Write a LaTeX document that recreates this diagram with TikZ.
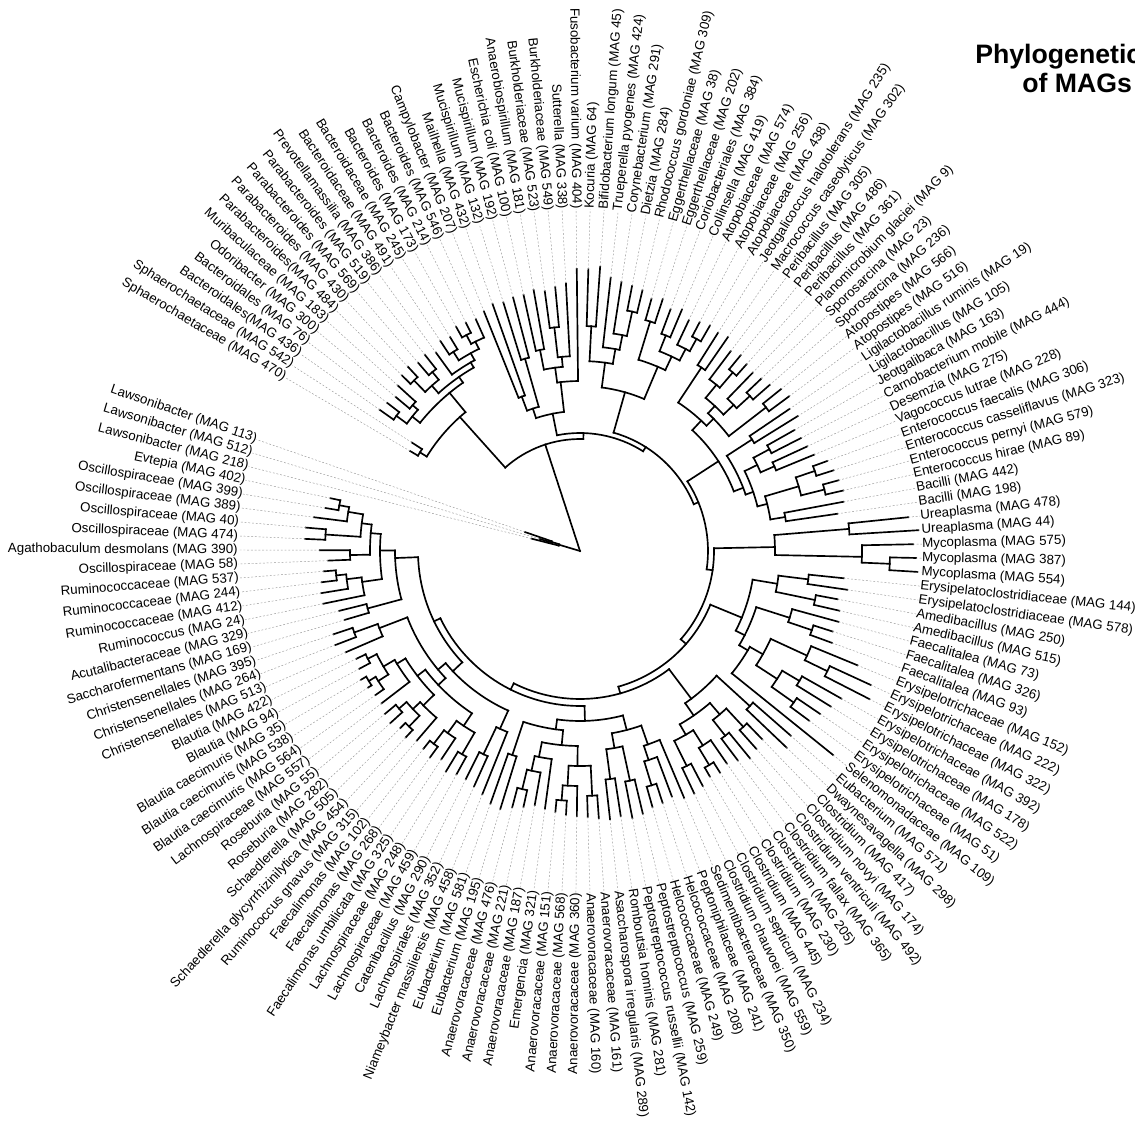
\documentclass[tikz,border=0pt]{standalone}
\usepackage{fontspec}
\setmainfont{Liberation Sans}
\tikzset{
  br/.style={line width=1.25pt, line cap=rect},
  lead/.style={black!40, line width=0.35pt, dash pattern=on 1.4pt off 1.4pt},
  lab/.style={font=\fontsize{10}{12}\selectfont, inner sep=0pt},
  ttl/.style={font=\fontsize{20}{24}\selectfont\bfseries, inner sep=0pt, anchor=base west}
}
% clade with children [#1..#2] and [#2+1..#3], node radius #4, parent radius #5
\newcommand\Cl[5]{%
  \pgfmathsetmacro\aA{151.885-2.355*((#1)+(#2))/2}%
  \pgfmathsetmacro\aB{151.885-2.355*((#2)+1+(#3))/2}%
  \pgfmathsetmacro\aM{151.885-2.355*((#1)+(#3))/2}%
  \draw[br] (\aA:#4) arc[start angle=\aA, end angle=\aB, radius=#4];%
  \draw[br] (\aM:#5) -- (\aM:#4);%
}
% node with explicit child positions #1,#2, own position #3
\newcommand\Nd[5]{%
  \pgfmathsetmacro\aA{151.885-2.355*(#1)}%
  \pgfmathsetmacro\aB{151.885-2.355*(#2)}%
  \pgfmathsetmacro\aM{151.885-2.355*(#3)}%
  \draw[br] (\aA:#4) arc[start angle=\aA, end angle=\aB, radius=#4];%
  \draw[br] (\aM:#5) -- (\aM:#4);%
}
% leaf #1, tip radius #2, parent radius #3
\newcommand\Lf[3]{%
  \pgfmathsetmacro\aM{151.885-2.355*(#1)}%
  \draw[br] (\aM:#3) -- (\aM:#2);%
  \draw[lead] (\aM:#2) -- (L#1);%
}
\begin{document}
\begin{tikzpicture}[x=0.75pt,y=0.75pt]
\useasboundingbox (-580,-570) rectangle (555,551);
\foreach \i/\t in {
1/{Sphaerochaetaceae (MAG 470)},
2/{Sphaerochaetaceae (MAG 542)},
3/{Bacteroidales(MAG 436)},
4/{Bacteroidales (MAG 76)},
5/{Odoribacter (MAG 300)},
6/{Muribaculaceae (MAG 183)},
7/{Parabacteroides(MAG 484)},
8/{Parabacteroides (MAG 430)},
9/{Parabacteroides (MAG 569)},
10/{Parabacteroides (MAG 519)},
11/{Prevotellamassilia (MAG 386)},
12/{Bacteroidaceae (MAG 491)},
13/{Bacteroidaceae (MAG 245)},
14/{Bacteroides (MAG 173)},
15/{Bacteroides (MAG 214)},
16/{Bacteroides (MAG 546)},
17/{Campylobacter (MAG 207)},
18/{Mailhella (MAG 432)},
19/{Mucispirillum (MAG 132)},
20/{Mucispirillum (MAG 192)},
21/{Escherichia coli (MAG 100)},
22/{Anaerobiospirillum (MAG 181)},
23/{Burkholderiaceae (MAG 523)},
24/{Burkholderiaceae (MAG 549)},
25/{Sutterella (MAG 338)},
26/{Fusobacterium varium (MAG 404)},
27/{Kocuria (MAG 64)},
28/{Bifidobacterium longum (MAG 45)},
29/{Trueperella pyogenes (MAG 424)},
30/{Corynebacterium (MAG 291)},
31/{Dietzia (MAG 284)},
32/{Rhodococcus gordoniae (MAG 309)},
33/{Eggerthellaceae (MAG 38)},
34/{Eggerthellaceae (MAG 202)},
35/{Coriobacteriales (MAG 384)},
36/{Collinsella (MAG 419)},
37/{Atopobiaceae (MAG 574)},
38/{Atopobiaceae (MAG 256)},
39/{Atopobiaceae (MAG 438)},
40/{Jeotgalicoccus halotolerans (MAG 235)},
41/{Macrococcus caseolyticus (MAG 302)},
42/{Peribacillus (MAG 305)},
43/{Peribacillus (MAG 486)},
44/{Peribacillus (MAG 361)},
45/{Planomicrobium glaciei (MAG 9)},
46/{Sporosarcina (MAG 23)},
47/{Sporosarcina (MAG 236)},
48/{Atopostipes (MAG 566)},
49/{Atopostipes (MAG 516)},
50/{Ligilactobacillus ruminis (MAG 19)},
51/{Ligilactobacillus (MAG 105)},
52/{Jeotgalibaca (MAG 163)},
53/{Carnobacterium mobile (MAG 444)},
54/{Desemzia (MAG 275)},
55/{Vagococcus lutrae (MAG 228)},
56/{Enterococcus faecalis (MAG 306)},
57/{Enterococcus casseliflavus (MAG 323)},
58/{Enterococcus pernyi (MAG 579)},
59/{Enterococcus hirae (MAG 89)},
60/{Bacilli (MAG 442)},
61/{Bacilli (MAG 198)},
62/{Ureaplasma (MAG 478)},
63/{Ureaplasma (MAG 44)},
64/{Mycoplasma (MAG 575)},
65/{Mycoplasma (MAG 387)},
66/{Mycoplasma (MAG 554)},
67/{Erysipelatoclostridiaceae (MAG 144)},
68/{Erysipelatoclostridiaceae (MAG 578)},
69/{Amedibacillus (MAG 250)},
70/{Amedibacillus (MAG 515)},
71/{Faecalitalea (MAG 73)},
72/{Faecalitalea (MAG 326)},
73/{Faecalitalea (MAG 93)},
74/{Erysipelotrichaceae (MAG 152)},
75/{Erysipelotrichaceae (MAG 222)},
76/{Erysipelotrichaceae (MAG 322)},
77/{Erysipelotrichaceae (MAG 392)},
78/{Erysipelotrichaceae (MAG 178)},
79/{Erysipelotrichaceae (MAG 522)},
80/{Erysipelotrichaceae (MAG 51)},
81/{Selenomonadaceae (MAG 109)},
82/{Eubacterium (MAG 571)},
83/{Dwaynesavagella (MAG 298)},
84/{Clostridium (MAG 417)},
85/{Clostridium novyi (MAG 174)},
86/{Clostridium ventriculi (MAG 492)},
87/{Clostridium fallax (MAG 365)},
88/{Clostridium (MAG 205)},
89/{Clostridium (MAG 230)},
90/{Clostridium (MAG 445)},
91/{Clostridium septicum (MAG 234)},
92/{Clostridium chauvoei (MAG 559)},
93/{Sedimentibacteraceae (MAG 350)},
94/{Peptoniphilaceae (MAG 241)},
95/{Helcococcaceae (MAG 208)},
96/{Helcococcaceae (MAG 249)},
97/{Peptostreptococcus (MAG 259)},
98/{Peptostreptococcus russellii (MAG 142)},
99/{Romboutsia hominis (MAG 281)},
100/{Asaccharospora irregularis (MAG 289)},
101/{Anaerovoracaceae (MAG 161)},
102/{Anaerovoracaceae (MAG 160)},
103/{Anaerovoracaceae (MAG 360)},
104/{Anaerovoracaceae (MAG 568)},
105/{Anaerovoracaceae (MAG 151)},
106/{Emergencia (MAG 321)},
107/{Anaerovoracaceae (MAG 187)},
108/{Anaerovoracaceae (MAG 221)},
109/{Anaerovoracaceae (MAG 476)},
110/{Eubacterium (MAG 195)},
111/{Eubacterium (MAG 581)},
112/{Niameybacter massiliensis (MAG 458)},
113/{Lachnospirales (MAG 352)},
114/{Catenibacillus (MAG 290)},
115/{Lachnospiraceae (MAG 459)},
116/{Lachnospiraceae (MAG 248)},
117/{Faecalimonas umbilicata (MAG 325)},
118/{Faecalimonas (MAG 268)},
119/{Faecalimonas (MAG 102)},
120/{Ruminococcus gnavus (MAG 315)},
121/{Schaedlerella glycyrrhizinilytica (MAG 454)},
122/{Schaedlerella (MAG 505)},
123/{Roseburia (MAG 282)},
124/{Roseburia (MAG 55)},
125/{Lachnospiraceae (MAG 557)},
126/{Blautia caecimuris (MAG 564)},
127/{Blautia caecimuris (MAG 538)},
128/{Blautia caecimuris (MAG 35)},
129/{Blautia (MAG 94)},
130/{Blautia (MAG 422)},
131/{Christensenellales (MAG 513)},
132/{Christensenellales (MAG 264)},
133/{Christensenellales (MAG 395)},
134/{Saccharofermentans (MAG 169)},
135/{Acutalibacteraceae (MAG 329)},
136/{Ruminococcus (MAG 24)},
137/{Ruminococcaceae (MAG 412)},
138/{Ruminococcaceae (MAG 244)},
139/{Ruminococcaceae (MAG 537)},
140/{Oscillospiraceae (MAG 58)},
141/{Agathobaculum desmolans (MAG 390)},
142/{Oscillospiraceae (MAG 474)},
143/{Oscillospiraceae (MAG 40)},
144/{Oscillospiraceae (MAG 389)},
145/{Oscillospiraceae (MAG 399)},
146/{Evtepia (MAG 402)},
147/{Lawsonibacter (MAG 218)},
148/{Lawsonibacter (MAG 512)},
149/{Lawsonibacter (MAG 113)}} {
  \pgfmathsetmacro\a{151.885-2.355*\i}
  \pgfmathtruncatemacro\side{cos(\a)>=0}
  \ifnum\side=1
    \node[lab, rotate=\a, anchor=west] (L\i) at (\a:342) {\t};
  \else
    \pgfmathsetmacro\b{\a+180}
    \node[lab, rotate=\b, anchor=east] (L\i) at (\a:342) {\t};
  \fi
}
% title
\node[ttl] (T1) at (395,487) {Phylogenetic};
\node[ttl] (T2) at (442,458) {of MAGs};
% ---------- tree ----------
% root: Lawsonibacter near the root
\Cl{147}{147}{149}{22}{0}
\Cl{148}{148}{149}{30}{22}
\Lf{147}{50}{22}
\Lf{148}{42}{30}
\Lf{149}{58}{30}
% backbone ladder
\Nd{8.5}{27}{18.6}{112}{0}
\Nd{21.5}{40}{27}{118}{112}
\Nd{33}{55}{40}{123}{118}
\Nd{50.5}{68}{55}{128}{123}
\Nd{64}{82}{68}{134}{128}
\Nd{74}{96}{82}{141}{134}
\Nd{87}{114}{96}{148}{141}
\Nd{102}{130}{114}{155}{148}
\Nd{122.5}{140}{130}{162}{155}
% Sphaerochaetaceae + Bacteroidota
\Cl{1}{2}{16}{180}{112}
\Cl{1}{1}{2}{188}{180} \Lf{1}{197}{188} \Lf{2}{200}{188}
\Cl{3}{6}{16}{205}{180}
\Cl{3}{4}{6}{215}{205}
\Cl{3}{3}{4}{228}{215} \Lf{3}{245}{228} \Lf{4}{243}{228}
\Cl{5}{5}{6}{222}{215} \Lf{5}{240}{222} \Lf{6}{246}{222}
\Cl{7}{10}{16}{212}{205}
\Cl{7}{8}{10}{222}{212}
\Cl{7}{7}{8}{238}{222} \Lf{7}{250}{238} \Lf{8}{252}{238}
\Cl{9}{9}{10}{232}{222} \Lf{9}{248}{232} \Lf{10}{250}{232}
\Cl{11}{11}{16}{218}{212} \Lf{11}{245}{218}
\Cl{12}{13}{16}{226}{218}
\Cl{12}{12}{13}{236}{226} \Lf{12}{252}{236} \Lf{13}{250}{236}
\Cl{14}{15}{16}{234}{226}
\Cl{14}{14}{15}{244}{234} \Lf{14}{256}{244} \Lf{15}{255}{244}
\Lf{16}{254}{234}
% Proteobacteria etc.
\Cl{17}{20}{26}{140}{118}
\Cl{17}{18}{20}{150}{140}
\Cl{17}{17}{18}{165}{150} \Lf{17}{258}{165} \Lf{18}{262}{165}
\Cl{19}{19}{20}{200}{150} \Lf{19}{260}{200} \Lf{20}{262}{200}
\Cl{21}{25}{26}{170}{140}
\Lf{26}{282}{170}
\Cl{21}{22}{25}{185}{170}
\Cl{21}{21}{22}{205}{185} \Lf{21}{262}{205} \Lf{22}{265}{205}
\Cl{23}{24}{25}{195}{185}
\Cl{23}{23}{24}{225}{195} \Lf{23}{262}{225} \Lf{24}{265}{225}
\Lf{25}{268}{195}
% Actinobacteria
\Cl{27}{32}{39}{165}{123}
\Cl{27}{28}{32}{190}{165}
\Cl{27}{27}{28}{225}{190} \Lf{27}{282}{225} \Lf{28}{285}{225}
\Cl{29}{29}{32}{205}{190} \Lf{29}{275}{205}
\Cl{30}{30}{32}{220}{205} \Lf{30}{272}{220}
\Cl{31}{31}{32}{245}{220} \Lf{31}{270}{245} \Lf{32}{268}{245}
\Cl{33}{34}{39}{200}{165}
\Cl{33}{33}{34}{240}{200} \Lf{33}{262}{240} \Lf{34}{265}{240}
\Cl{35}{36}{39}{215}{200}
\Cl{35}{35}{36}{232}{215} \Lf{35}{258}{232} \Lf{36}{262}{232}
\Cl{37}{37}{39}{228}{215} \Lf{37}{255}{228}
\Cl{38}{38}{39}{242}{228} \Lf{38}{258}{242} \Lf{39}{260}{242}
% Bacilli
\Cl{40}{49}{61}{165}{128}
\Cl{40}{41}{49}{178}{165}
\Cl{40}{40}{41}{220}{178} \Lf{40}{258}{220} \Lf{41}{260}{220}
\Cl{42}{47}{49}{188}{178}
\Cl{42}{44}{47}{198}{188}
\Cl{42}{42}{44}{215}{198} \Lf{42}{250}{215}
\Cl{43}{43}{44}{235}{215} \Lf{43}{253}{235} \Lf{44}{250}{235}
\Cl{45}{45}{47}{212}{198} \Lf{45}{248}{212}
\Cl{46}{46}{47}{230}{212} \Lf{46}{250}{230} \Lf{47}{252}{230}
\Cl{48}{48}{49}{235}{188} \Lf{48}{258}{235} \Lf{49}{260}{235}
\Cl{50}{51}{61}{175}{165}
\Cl{50}{50}{51}{205}{175} \Lf{50}{253}{205} \Lf{51}{256}{205}
\Cl{52}{55}{61}{183}{175}
\Cl{52}{53}{55}{197}{183}
\Cl{52}{52}{53}{215}{197} \Lf{52}{246}{215} \Lf{53}{248}{215}
\Cl{54}{54}{55}{212}{197} \Lf{54}{250}{212} \Lf{55}{253}{212}
\Cl{56}{59}{61}{193}{183}
\Cl{56}{57}{59}{228}{193}
\Cl{56}{56}{57}{248}{228} \Lf{56}{263}{248} \Lf{57}{266}{248}
\Cl{58}{58}{59}{252}{228} \Lf{58}{268}{252} \Lf{59}{270}{252}
\Cl{60}{60}{61}{208}{193} \Lf{60}{268}{208} \Lf{61}{260}{208}
% Mollicutes
\Cl{62}{63}{66}{195}{134}
\Cl{62}{62}{63}{270}{195} \Lf{62}{330}{270} \Lf{63}{339}{270}
\Cl{64}{64}{66}{282}{195} \Lf{64}{333}{282}
\Cl{65}{65}{66}{310}{282} \Lf{65}{336}{310} \Lf{66}{338}{310}
% Erysipelotrichia
\Cl{67}{70}{81}{175}{141}
\Cl{67}{68}{70}{200}{175}
\Cl{67}{67}{68}{230}{200} \Lf{67}{265}{230} \Lf{68}{270}{230}
\Cl{69}{69}{70}{240}{200} \Lf{69}{262}{240} \Lf{70}{266}{240}
\Cl{71}{73}{81}{185}{175}
\Cl{71}{71}{73}{220}{185} \Lf{71}{268}{220}
\Cl{72}{72}{73}{245}{220} \Lf{72}{265}{245} \Lf{73}{268}{245}
\Cl{74}{80}{81}{195}{185}
\Lf{81}{325}{195}
\Cl{74}{76}{80}{210}{195}
\Cl{74}{74}{76}{250}{210} \Lf{74}{300}{250}
\Cl{75}{75}{76}{275}{250} \Lf{75}{320}{275} \Lf{76}{325}{275}
\Cl{77}{78}{80}{235}{210}
\Cl{77}{77}{78}{255}{235} \Lf{77}{300}{255} \Lf{78}{295}{255}
\Cl{79}{79}{80}{262}{235} \Lf{79}{290}{262} \Lf{80}{285}{262}
% Clostridium
\Cl{82}{83}{92}{185}{148}
\Cl{82}{82}{83}{230}{185} \Lf{82}{280}{230} \Lf{83}{285}{230}
\Cl{84}{87}{92}{200}{185}
\Cl{84}{85}{87}{215}{200}
\Cl{84}{84}{85}{240}{215} \Lf{84}{262}{240} \Lf{85}{265}{240}
\Cl{86}{86}{87}{235}{215} \Lf{86}{268}{235} \Lf{87}{262}{235}
\Cl{88}{90}{92}{212}{200}
\Cl{88}{88}{90}{230}{212} \Lf{88}{258}{230}
\Cl{89}{89}{90}{250}{230} \Lf{89}{262}{250} \Lf{90}{260}{250}
\Cl{91}{91}{92}{240}{212} \Lf{91}{265}{240} \Lf{92}{268}{240}
% Peptostreptococcales etc.
\Cl{93}{100}{111}{170}{155}
\Cl{93}{96}{100}{185}{170}
\Cl{93}{93}{96}{205}{185} \Lf{93}{268}{205}
\Cl{94}{94}{96}{220}{205} \Lf{94}{262}{220}
\Cl{95}{95}{96}{245}{220} \Lf{95}{265}{245} \Lf{96}{266}{245}
\Cl{97}{98}{100}{200}{185}
\Cl{97}{97}{98}{235}{200} \Lf{97}{270}{235} \Lf{98}{272}{235}
\Cl{99}{99}{100}{230}{200} \Lf{99}{268}{230} \Lf{100}{270}{230}
\Cl{101}{109}{111}{180}{170}
\Cl{101}{105}{109}{195}{180}
\Cl{101}{102}{105}{215}{195}
\Cl{101}{101}{102}{245}{215} \Lf{101}{268}{245} \Lf{102}{266}{245}
\Cl{103}{103}{105}{235}{215} \Lf{103}{265}{235}
\Cl{104}{104}{105}{250}{235} \Lf{104}{264}{250} \Lf{105}{262}{250}
\Cl{106}{106}{109}{210}{195} \Lf{106}{260}{210}
\Cl{107}{107}{109}{225}{210} \Lf{107}{258}{225}
\Cl{108}{108}{109}{245}{225} \Lf{108}{262}{245} \Lf{109}{265}{245}
\Cl{110}{110}{111}{215}{180} \Lf{110}{270}{215} \Lf{111}{268}{215}
% Lachnospiraceae etc.
\Cl{112}{114}{133}{175}{162}
\Cl{112}{112}{114}{195}{175} \Lf{112}{262}{195}
\Cl{113}{113}{114}{225}{195} \Lf{113}{258}{225} \Lf{114}{255}{225}
\Cl{115}{130}{133}{185}{175}
\Cl{115}{119}{130}{195}{185}
\Cl{115}{116}{119}{210}{195}
\Cl{115}{115}{116}{235}{210} \Lf{115}{255}{235} \Lf{116}{258}{235}
\Cl{117}{117}{119}{225}{210} \Lf{117}{250}{225}
\Cl{118}{118}{119}{242}{225} \Lf{118}{255}{242} \Lf{119}{252}{242}
\Cl{120}{124}{130}{205}{195}
\Cl{120}{120}{124}{220}{205} \Lf{120}{250}{220}
\Cl{121}{122}{124}{230}{220}
\Cl{121}{121}{122}{245}{230} \Lf{121}{255}{245} \Lf{122}{252}{245}
\Cl{123}{123}{124}{240}{230} \Lf{123}{256}{240} \Lf{124}{254}{240}
\Cl{125}{125}{130}{215}{205} \Lf{125}{250}{215}
\Cl{126}{128}{130}{228}{215}
\Cl{126}{126}{128}{240}{228} \Lf{126}{250}{240}
\Cl{127}{127}{128}{248}{240} \Lf{127}{252}{248} \Lf{128}{254}{248}
\Cl{129}{129}{130}{238}{228} \Lf{129}{250}{238} \Lf{130}{248}{238}
\Cl{131}{131}{133}{215}{185} \Lf{131}{255}{215}
\Cl{132}{132}{133}{240}{215} \Lf{132}{262}{240} \Lf{133}{260}{240}
% Oscillospiraceae etc.
\Cl{134}{135}{146}{185}{162}
\Cl{134}{134}{135}{220}{185} \Lf{134}{245}{220} \Lf{135}{248}{220}
\Cl{136}{139}{146}{200}{185}
\Cl{136}{136}{139}{220}{200} \Lf{136}{262}{220}
\Cl{137}{137}{139}{235}{220} \Lf{137}{262}{235}
\Cl{138}{138}{139}{245}{235} \Lf{138}{260}{245} \Lf{139}{257}{245}
\Cl{140}{141}{146}{210}{200}
\Cl{140}{140}{141}{230}{210} \Lf{140}{252}{230} \Lf{141}{260}{230}
\Cl{142}{143}{146}{220}{210}
\Cl{142}{142}{143}{255}{220} \Lf{142}{275}{255} \Lf{143}{275}{255}
\Cl{144}{144}{146}{235}{220} \Lf{144}{268}{235}
\Cl{145}{145}{146}{245}{235} \Lf{145}{258}{245} \Lf{146}{255}{245}
\end{tikzpicture}
\end{document}
